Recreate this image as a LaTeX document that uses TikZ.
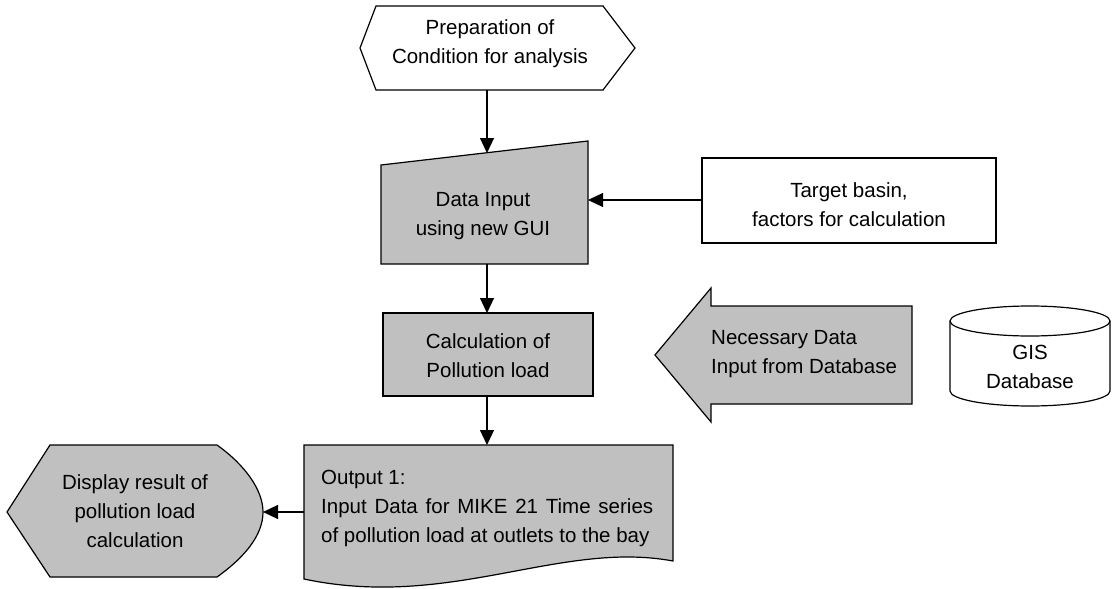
\documentclass[tikz,border=0pt]{standalone}
\usepackage{fontspec}
\setmainfont{Liberation Sans}
\usetikzlibrary{arrows.meta}
\definecolor{boxgray}{HTML}{C0C0C0}
\tikzset{
  outline/.style={draw=black, line width=1.2pt, line join=miter},
  grayfill/.style={outline, fill=boxgray},
  label/.style={inner sep=0pt, align=center, font=\fontsize{20.5}{29}\selectfont},
  flow/.style={line width=1.2pt, -{Triangle[length=15pt,width=14pt]}}
}
\begin{document}
\begin{tikzpicture}[x=1pt,y=-1pt]
\useasboundingbox (0,0) rectangle (1112,589);

% start hexagon
\draw[outline, fill=white] (360,48) -- (376,6) -- (603,6) -- (635,48) -- (603,90) -- (376,90) -- cycle;
\node[label] (prep) at (490,44) {Preparation of\\Condition for analysis};
\coordinate (prepB) at (487,90);

% manual input
\draw[grayfill] (381,165) -- (588,141) -- (588,264) -- (381,264) -- cycle;
\node[label] (input) at (483,216) {Data Input\\using new GUI};
\coordinate (inputT) at (487,153);
\coordinate (inputB) at (487,264);
\coordinate (inputR) at (588,200);

% target box
\draw[outline, fill=white] (702,158) rectangle (996,243);
\node[label] (target) at (849,205) {Target basin,\\factors for calculation};
\coordinate (targetL) at (702,200);

% calculation box
\draw[grayfill] (383,313) rectangle (593,396);
\node[label] (calc) at (488,356) {Calculation of\\Pollution load};
\coordinate (calcT) at (487,313);
\coordinate (calcB) at (487,396);

% block arrow from database
\draw[grayfill] (655,355) -- (711,288) -- (711,306) -- (912,306) -- (912,404) -- (711,404) -- (711,422) -- cycle;
\node[label, align=left, anchor=west] (need) at (711,354) {Necessary Data\\Input from Database};

% GIS database cylinder
\draw[outline, fill=white] (950,321) -- (950,391) arc[start angle=180, end angle=0, x radius=80, y radius=15] -- (1110,321) arc[start angle=0, end angle=-180, x radius=80, y radius=15] -- cycle;
\draw[outline] (950,321) arc[start angle=180, end angle=0, x radius=80, y radius=15];
\node[label] (gis) at (1030,367) {GIS\\Database};

% output document
\draw[grayfill] (304,445) -- (673,445) -- (673,561) .. controls (560,540) and (450,610) .. (304,579) -- cycle;
\node[label, align=left, anchor=west] (out) at (321,508)
  {Output 1:\\\makebox[332pt][s]{Input Data for MIKE 21 Time series}\\of pollution load at outlets to the bay};
\coordinate (outT) at (487,445);
\coordinate (outL) at (304,512);

% display shape
\draw[grayfill] (7,512) -- (50,445) -- (217,445) .. controls (245,465) and (263,490) .. (263,512) .. controls (263,535) and (245,557) .. (217,577) -- (50,577) -- cycle;
\node[label] (disp) at (135,511) {Display result of\\pollution load\\calculation};
\coordinate (dispR) at (263,512);

% connectors
\draw[flow] (prepB) -- (inputT);
\draw[flow] (targetL) -- (inputR);
\draw[flow] (inputB) -- (calcT);
\draw[flow] (calcB) -- (outT);
\draw[flow] (outL) -- (dispR);
\end{tikzpicture}
\end{document}
